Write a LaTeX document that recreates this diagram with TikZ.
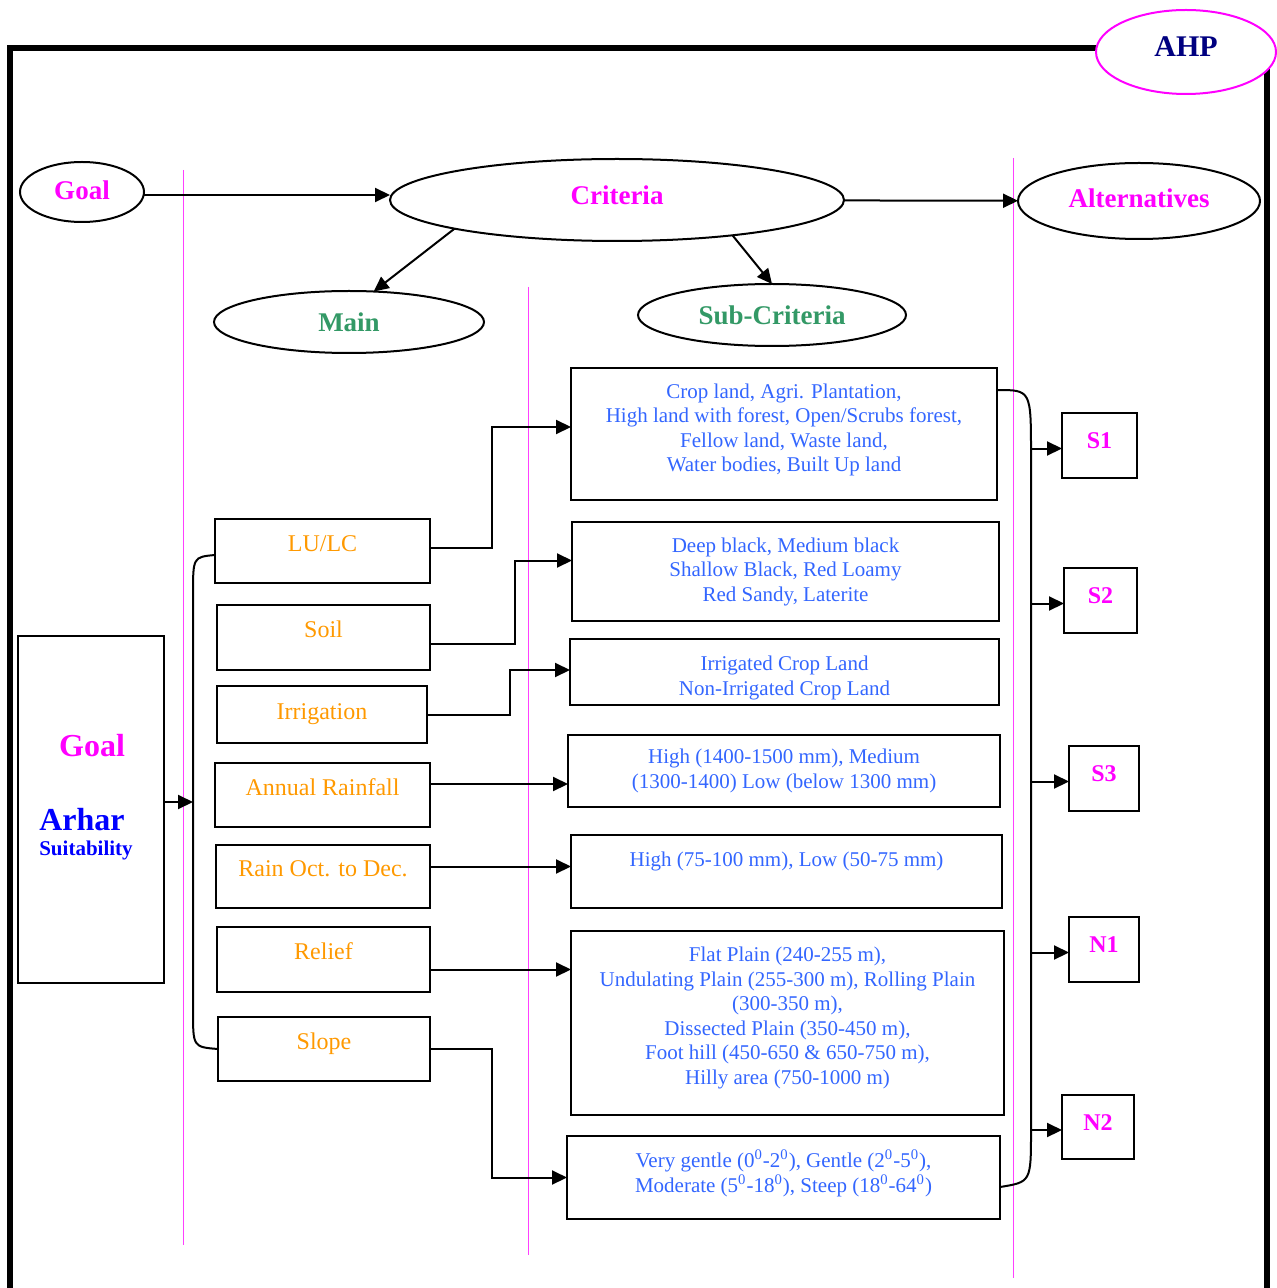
\documentclass[tikz,border=0pt]{standalone}
\usepackage{fontspec}
\setmainfont{Liberation Serif}
\definecolor{gl}{HTML}{FF00FF}
\definecolor{mn}{HTML}{339966}
\definecolor{sc}{HTML}{3366FF}
\definecolor{lu}{HTML}{FF9900}
\definecolor{ah}{HTML}{000080}
\definecolor{ar}{HTML}{0000FF}
\usetikzlibrary{
  arrows.meta,       % filled triangle tips
  shapes.geometric   % ellipses for the hierarchy levels
}
\tikzset{
    every node/.style = {inner sep=0pt, outer sep=0pt},
    oval/.style = {
        ellipse,
        draw,
        line width=1pt,
        fill=white,
        font=\fontsize{13.5}{16}\selectfont\bfseries
    },
    mainbox/.style = {
        rectangle, draw, line width=1pt,
        text=lu,
        font=\fontsize{12}{14}\selectfont,
        text height=8pt, text depth=8pt
    },
    subbox/.style = {
        rectangle, draw, line width=1pt,
        align=center,
        text=sc,
        font=\fontsize{10.5}{12.25}\selectfont
    },
    altbox/.style = {
        rectangle, draw, line width=1pt,
        text=gl,
        font=\fontsize{12}{14}\selectfont\bfseries,
        text height=8pt, text depth=5pt
    },
    guide/.style = {draw=gl!75, line width=0.35pt},
    frame/.style = {line width=3pt},
    link/.style = {line width=1pt},
    >={Triangle[length=7.5pt,width=7pt]}
}

\begin{document}
\begin{tikzpicture}[x=0.5pt, y=-0.5pt]
  \useasboundingbox (0,0) rectangle (1276,1288);

  %% frame and guides
  \draw[frame] (10,1300) -- (10,48) -- (1267,48) -- (1267,1300);
  \draw[guide] (183.5,170) -- (183.5,1245);
  \draw[guide] (528.5,287) -- (528.5,1255);
  \draw[guide] (1013.5,158) -- (1013.5,1278);

  \node[oval, draw=gl, text=ah, minimum width=90pt, minimum height=42pt, text depth=5pt,
        font=\fontsize{15}{18}\selectfont\bfseries] (AHP) at (1186,52) {AHP};

  %% hierarchy levels
  \node[oval, text=gl, minimum width=62pt, minimum height=30pt, text depth=2pt] (GoalOv) at (82,192) {Goal};
  \node[oval, text=gl, minimum width=227pt, minimum height=41pt, text depth=5pt] (Criteria) at (617,200) {Criteria};
  \node[oval, text=gl, minimum width=121pt, minimum height=38pt, text depth=3pt] (Alter) at (1139,201) {Alternatives};
  \node[oval, text=mn, minimum width=135pt, minimum height=31pt] (MainOv) at (349,322) {Main};
  \node[oval, text=mn, minimum width=134pt, minimum height=31pt] (SubOv) at (772,315) {Sub-Criteria};

  \draw[link,->] ([yshift=-1.5pt]GoalOv.east) -- ([yshift=-1.5pt]GoalOv.east -| Criteria.west);
  \draw[link,->] (Criteria) -- (Alter);
  \draw[link,->] (Criteria.190) -- (MainOv.51);
  \draw[link,->] (Criteria.343) -- (SubOv.north);

  %% goal
  \node[rectangle, draw, line width=1pt, minimum width=73pt, minimum height=173.5pt] (GoalBox) at (91,809.5) {};
  \node[text=gl, font=\fontsize{16}{19}\selectfont\bfseries] (GoalTxt) at (92,746) {Goal};
  \node[text=ar, font=\fontsize{16}{19}\selectfont\bfseries] (Arhar) at (82,820) {Arhar};
  \node[text=ar, font=\fontsize{10.5}{12}\selectfont\bfseries] (Suit) at (86,850) {Suitability};

  %% main criteria
  \node[mainbox, minimum width=107.5pt, minimum height=32pt] (LULC) at (322.5,551) {LU/LC};
  \node[mainbox, minimum width=106.5pt, minimum height=32.5pt] (Soil) at (323.5,637.5) {Soil};
  \node[mainbox, minimum width=105pt, minimum height=28.5pt, text depth=3.5pt] (Irri) at (322,714.5) {Irrigation};
  \node[mainbox, minimum width=107.5pt, minimum height=32pt] (AnnRain) at (322.5,795) {Annual Rainfall};
  \node[mainbox, minimum width=107pt, minimum height=31.5pt] (RainOD) at (323,876.5) {Rain Oct. to Dec.};
  \node[mainbox, minimum width=106.5pt, minimum height=32.5pt] (Relief) at (323.5,959.5) {Relief};
  \node[mainbox, minimum width=106pt, minimum height=32pt] (Slope) at (324,1049) {Slope};

  \coordinate (brL) at (193,802);
  \draw[link,->] (GoalBox.east |- brL) -- (brL);
  \draw[link] ([yshift=-2pt]LULC.west) .. controls (193,557) .. (193,595)
    -- (193,1010) .. controls (193,1047) .. (Slope.west);

  %% sub criteria
  \node[subbox, minimum width=213pt, minimum height=66pt, text depth=6.3pt] (LULCsub) at (784,434)
    {Crop land, Agri. Plantation,\\High land with forest, Open/Scrubs forest,\\Fellow land, Waste land,\\Water bodies, Built Up land};
  \node[subbox, minimum width=213.5pt, minimum height=49.5pt] (Soilsub) at (785.5,571.5)
    {Deep black, Medium black\\Shallow Black, Red Loamy\\Red Sandy, Laterite};
  \node[subbox, minimum width=214.5pt, minimum height=33pt, text height=25.3pt] (Irrisub) at (784.5,672)
    {Irrigated Crop Land\\Non-Irrigated Crop Land};
  \node[subbox, minimum width=216pt, minimum height=36pt] (AnnRainsub) at (784,771)
    {High (1400-1500 mm), Medium\\(1300-1400) Low (below 1300 mm)};
  \node[subbox, minimum width=215.5pt, minimum height=36.5pt, text height=5pt, text depth=10.5pt] (RainODsub) at (786.5,871.5)
    {High (75-100 mm), Low (50-75 mm)};
  \node[subbox, minimum width=216.5pt, minimum height=92pt, text depth=7.3pt] (Reliefsub) at (787.5,1023)
    {Flat Plain (240-255 m),\\Undulating Plain (255-300 m), Rolling Plain\\(300-350 m),\\Dissected Plain (350-450 m),\\Foot hill (450-650 \& 650-750 m),\\Hilly area (750-1000 m)};
  \node[subbox, minimum width=216.5pt, minimum height=41.5pt, text depth=6.3pt] (Slopesub) at (783.5,1177.5)
    {Very gentle (0\textsuperscript{0}-2\textsuperscript{0}), Gentle (2\textsuperscript{0}-5\textsuperscript{0}),\\Moderate (5\textsuperscript{0}-18\textsuperscript{0}), Steep (18\textsuperscript{0}-64\textsuperscript{0})};

  \draw[link,->] ([yshift=1.5pt]LULC.east) -- ++(62,0) |- ([yshift=3.5pt]LULCsub.west);
  \draw[link,->] ([yshift=-3pt]Soil.east) -- ++(85,0) |- ([yshift=5.5pt]Soilsub.west);
  \draw[link,->] (Irri.east) -- ++(83,0) |- ([yshift=1pt]Irrisub.west);
  \draw[link,->] ([yshift=5.5pt]AnnRain.east) -- ([yshift=5.5pt]AnnRain.east -| AnnRainsub.west);
  \draw[link,->] ([yshift=5pt]RainOD.east) -- ([yshift=5pt]RainOD.east -| RainODsub.west);
  \draw[link,->] ([yshift=-5pt]Relief.east) -- ([yshift=-5pt]Relief.east -| Reliefsub.west);
  \draw[link,->] (Slope.east) -- ++(62,0) |- (Slopesub.west);

  %% alternatives
  \node[altbox, minimum width=37.5pt, minimum height=32.5pt] (S1) at (1099.5,445.5) {S1};
  \node[altbox, minimum width=36.5pt, minimum height=32.5pt] (S2) at (1100.5,600.5) {S2};
  \node[altbox, minimum width=35pt, minimum height=32.5pt] (S3) at (1104,778.5) {S3};
  \node[altbox, minimum width=35pt, minimum height=32.5pt] (N1) at (1104,949.5) {N1};
  \node[altbox, minimum width=36pt, minimum height=32pt] (N2) at (1098,1127) {N2};

  \coordinate (brR) at (1031,780);
  \draw[link] ([yshift=-11pt]LULCsub.north east) .. controls (1031,390) .. (1031,455)
    -- (1031,1130) .. controls (1031,1182) .. ([yshift=-4.75pt]Slopesub.east);
  \foreach \a in {S1,S2,S3,N1,N2}
    \draw[link,->] ([yshift=-1.5pt]\a.west -| brR) -- ([yshift=-1.5pt]\a.west);

\end{tikzpicture}
\end{document}
